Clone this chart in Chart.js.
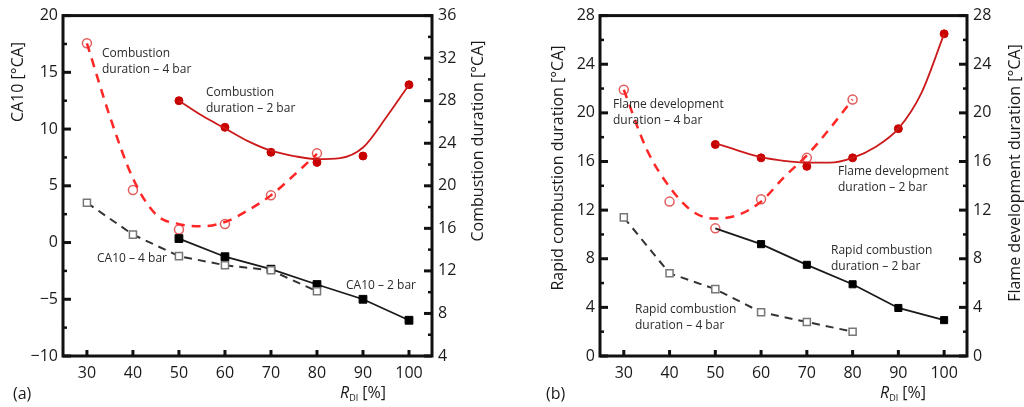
<!DOCTYPE html>
<html>
<head>
<meta charset="utf-8">
<script src="https://cdn.jsdelivr.net/npm/chart.js@4/dist/chart.umd.min.js"></script>
<style>
  html, body { margin: 0; padding: 0; background: #fff; }
  #wrap { position: relative; width: 1024px; height: 407px; }
  canvas { position: absolute; top: 0; }
  #ca { left: 0; }
  #cb { left: 512px; }
</style>
</head>
<body>
<div id="wrap">
  <canvas id="ca" width="512" height="407"></canvas>
  <canvas id="cb" width="512" height="407"></canvas>
</div>
<script>
// R_DI values
const xTicks = [30, 40, 50, 60, 70, 80, 90, 100]
const rdi2 = [50, 60, 70, 80, 90, 100]
const rdi4 = [30, 40, 50, 60, 70, 80]
const fitX2 = [50, 55, 60, 65, 70, 75, 80, 85, 90, 95, 100]
const fitX4 = [30, 35, 40, 45, 50, 55, 60, 65, 70, 75, 80]

// panel (a)
const caTicks = [-10, -5, 0, 5, 10, 15, 20]
const cdTicks = [4, 8, 12, 16, 20, 24, 28, 32, 36]
const ca10_2bar = [0.35, -1.25, -2.35, -3.7, -5.0, -6.85]
const ca10_4bar = [3.5, 0.7, -1.2, -2.0, -2.45, -4.3]
const cd_2bar = [28.0, 25.5, 23.15, 22.2, 22.8, 29.5]
const cd_4bar = [33.4, 19.6, 15.9, 16.4, 19.1, 23.05]
const cd2Fit = [28.0, 26.6, 25.4, 24.2, 23.3, 22.8, 22.5, 22.6, 23.6, 26.4, 29.5]
const cd4Fit = [33.4, 26.5, 20.7, 17.3, 16.4, 16.2, 16.6, 17.7, 19.1, 21.0, 23.0]

// panel (b)
const durTicks = [0, 4, 8, 12, 16, 20, 24, 28]
const rc_2bar = [10.5, 9.2, 7.5, 5.9, 3.95, 2.95]
const rc_4bar = [11.4, 6.8, 5.5, 3.6, 2.8, 2.0]
const fd_2bar = [17.4, 16.3, 15.6, 16.3, 18.7, 26.5]
const fd_4bar = [21.9, 12.7, 10.5, 12.9, 16.3, 21.1]
const fd2Fit = [17.5, 16.9, 16.35, 16.05, 15.9, 15.9, 16.3, 17.2, 18.7, 21.6, 26.5]
const fd4Fit = [21.9, 17.0, 13.9, 11.9, 11.3, 11.6, 12.7, 14.7, 16.5, 18.7, 21.1]

const pts = (xs, ys) => xs.map((x, i) => ({ x: x, y: ys[i] }))
const FONT = "'Open Sans', sans-serif"
Chart.defaults.font.family = FONT
Chart.defaults.color = '#1a1a1a'

function blackLine(data, axis, dashed, radius) {
    return {
        data: data, yAxisID: axis,
        borderColor: dashed ? '#333' : '#1a1a1a',
        borderWidth: dashed ? 2 : 1.8,
        borderDash: dashed ? [8, 6] : [],
        tension: 0,
        pointStyle: 'rect',
        pointRadius: radius,
        pointBackgroundColor: dashed ? '#fff' : '#000',
        pointBorderColor: dashed ? '#777' : '#000',
        pointBorderWidth: dashed ? 1.5 : 1,
    }
}
function redCurve(data, axis, dashed) {
    return {
        data: data, yAxisID: axis,
        borderColor: dashed ? '#ff2626' : '#cc1a1a',
        borderWidth: dashed ? 2.5 : 1.8,
        borderDash: dashed ? [9, 7] : [],
        cubicInterpolationMode: 'monotone',
        pointRadius: 0,
    }
}
function redMarks(data, axis, open) {
    return {
        data: data, yAxisID: axis, showLine: false,
        pointStyle: 'circle',
        pointRadius: open ? 4.5 : 4,
        pointBackgroundColor: open ? '#fff' : '#c80000',
        pointBorderColor: open ? '#e35c5c' : '#c80000',
        pointBorderWidth: open ? 1.5 : 1,
    }
}

function tickMarks(ctx, scale, x0, dir) {
    const vals = scale.ticks.map(t => t.value)
    vals.forEach((v, i) => {
        const py = scale.getPixelForValue(v)
        ctx.lineWidth = 3
        ctx.beginPath(); ctx.moveTo(x0, py); ctx.lineTo(x0 + dir * 8, py); ctx.stroke()
        if (i < vals.length - 1) {
            const pm = scale.getPixelForValue((v + vals[i + 1]) / 2)
            ctx.lineWidth = 2.5
            ctx.beginPath(); ctx.moveTo(x0, pm); ctx.lineTo(x0 + dir * 4, pm); ctx.stroke()
        }
    })
}

const decor = {
    id: 'decor',
    afterDraw(chart, args, o) {
        const { ctx, chartArea: a } = chart
        ctx.save()
        ctx.strokeStyle = '#111'
        ctx.lineWidth = 3
        ctx.strokeRect(a.left, a.top, a.right - a.left, a.bottom - a.top)
        tickMarks(ctx, chart.scales.y, a.left, 1)
        tickMarks(ctx, chart.scales.y1, a.right, -1)
        const xs = chart.scales.x
        ctx.lineWidth = 3
        xs.ticks.forEach(t => {
            const px = xs.getPixelForValue(t.value)
            ctx.beginPath(); ctx.moveTo(px, a.bottom); ctx.lineTo(px, a.bottom - 6); ctx.stroke()
        })

        // axis titles, rotated, reading upward
        ctx.fillStyle = '#1a1a1a'
        ctx.font = '16px ' + FONT
        ctx.textAlign = 'center'
        ctx.textBaseline = 'middle'
        o.titles.forEach(t => {
            ctx.save()
            ctx.translate(t.x, t.y)
            ctx.rotate(-Math.PI / 2)
            ctx.fillText(t.text, 0, 0)
            ctx.restore()
        })

        // x title: R_DI [%]
        ctx.textAlign = 'left'
        ctx.textBaseline = 'alphabetic'
        let x = o.xTitle.x
        const by = o.xTitle.y
        ctx.font = 'italic 16px ' + FONT
        ctx.fillText('R', x, by)
        x += ctx.measureText('R').width
        ctx.font = '9px ' + FONT
        ctx.fillText('DI', x, by + 3)
        x += ctx.measureText('DI').width
        ctx.font = '16px ' + FONT
        ctx.fillText(' [%]', x, by)

        // panel label
        ctx.fillText(o.panel.text, o.panel.x, o.panel.y)

        // notes
        ctx.fillStyle = '#2a2a2a'
        ctx.font = '12px ' + FONT
        ctx.textBaseline = 'middle'
        o.notes.forEach(n => {
            n.lines.forEach((line, i) => ctx.fillText(line, n.x, n.y + i * 15.5))
        })
        ctx.restore()
    }
}

function yAxis(pos, min, max, ticks, width, pad) {
    return {
        type: 'linear', position: pos, min: min, max: max,
        afterBuildTicks: s => { s.ticks = ticks.map(v => ({ value: v })) },
        afterFit: s => { s.width = width },
        grid: { display: false, drawTicks: false },
        border: { display: false },
        ticks: {
            padding: pad,
            font: { size: 16 },
            color: '#1a1a1a',
            callback: v => String(v).replace('-', '\u2212'),
        },
    }
}
function xAxis() {
    return {
        type: 'linear', position: 'bottom', min: 24.8, max: 105,
        afterBuildTicks: s => { s.ticks = xTicks.map(v => ({ value: v })) },
        afterFit: s => { s.height = 51 },
        grid: { display: false, drawTicks: false },
        border: { display: false },
        ticks: { padding: 8, font: { size: 16 }, color: '#1a1a1a', maxRotation: 0 },
    }
}

const common = {
    responsive: false,
    animation: false,
    devicePixelRatio: 1,
    events: [],
    layout: { padding: { top: 15, left: 0, right: 0, bottom: 0 } },
}

new Chart(document.getElementById('ca'), {
    type: 'line',
    data: {
        datasets: [
            redCurve(pts(fitX4, cd4Fit), 'y1', true),
            redCurve(pts(fitX2, cd2Fit), 'y1', false),
            blackLine(pts(rdi4, ca10_4bar), 'y', true, 5),
            blackLine(pts(rdi2, ca10_2bar), 'y', false, 5.5),
            redMarks(pts(rdi2, cd_2bar), 'y1', false),
            redMarks(pts(rdi4, cd_4bar), 'y1', true),
        ]
    },
    options: Object.assign({}, common, {
        scales: {
            x: xAxis(),
            y: yAxis('left', -10, 20, caTicks, 63, 5),
            y1: yAxis('right', 4, 36, cdTicks, 80, 6),
        },
        plugins: {
            legend: { display: false },
            tooltip: { enabled: false },
            decor: {
                titles: [
                    { text: 'CA10 [°CA]', x: 18, y: 82 },
                    { text: 'Combustion duration [°CA]', x: 478, y: 141 },
                ],
                xTitle: { x: 340, y: 398 },
                panel: { text: '(a)', x: 13, y: 399 },
                notes: [
                    { lines: ['Combustion', 'duration \u2013 4 bar'], x: 102, y: 54 },
                    { lines: ['Combustion', 'duration \u2013 2 bar'], x: 206, y: 93 },
                    { lines: ['CA10 \u2013 4 bar'], x: 97, y: 259 },
                    { lines: ['CA10 \u2013 2 bar'], x: 346, y: 286 },
                ],
            },
        },
    }),
    plugins: [decor],
})

new Chart(document.getElementById('cb'), {
    type: 'line',
    data: {
        datasets: [
            redCurve(pts(fitX4, fd4Fit), 'y1', true),
            redCurve(pts(fitX2, fd2Fit), 'y1', false),
            blackLine(pts(rdi4, rc_4bar), 'y', true, 5),
            blackLine(pts(rdi2, rc_2bar), 'y', false, [0, 5, 5, 5, 5, 5]),
            redMarks(pts(rdi2, fd_2bar), 'y1', false),
            redMarks(pts(rdi4, fd_4bar), 'y1', true),
        ]
    },
    options: Object.assign({}, common, {
        scales: {
            x: xAxis(),
            y: yAxis('left', 0, 28, durTicks, 88, 5),
            y1: yAxis('right', 0, 28, durTicks, 57, 6),
        },
        plugins: {
            legend: { display: false },
            tooltip: { enabled: false },
            decor: {
                titles: [
                    { text: 'Rapid combustion duration [°CA]', x: 46, y: 168 },
                    { text: 'Flame development duration [°CA]', x: 503, y: 173 },
                ],
                xTitle: { x: 368, y: 398 },
                panel: { text: '(b)', x: 34, y: 399 },
                notes: [
                    { lines: ['Flame development', 'duration \u2013 4 bar'], x: 101, y: 105 },
                    { lines: ['Flame development', 'duration \u2013 2 bar'], x: 326, y: 172 },
                    { lines: ['Rapid combustion', 'duration \u2013 2 bar'], x: 319, y: 251 },
                    { lines: ['Rapid combustion', 'duration \u2013 4 bar'], x: 123, y: 310 },
                ],
            },
        },
    }),
    plugins: [decor],
})
</script>
</body>
</html>
